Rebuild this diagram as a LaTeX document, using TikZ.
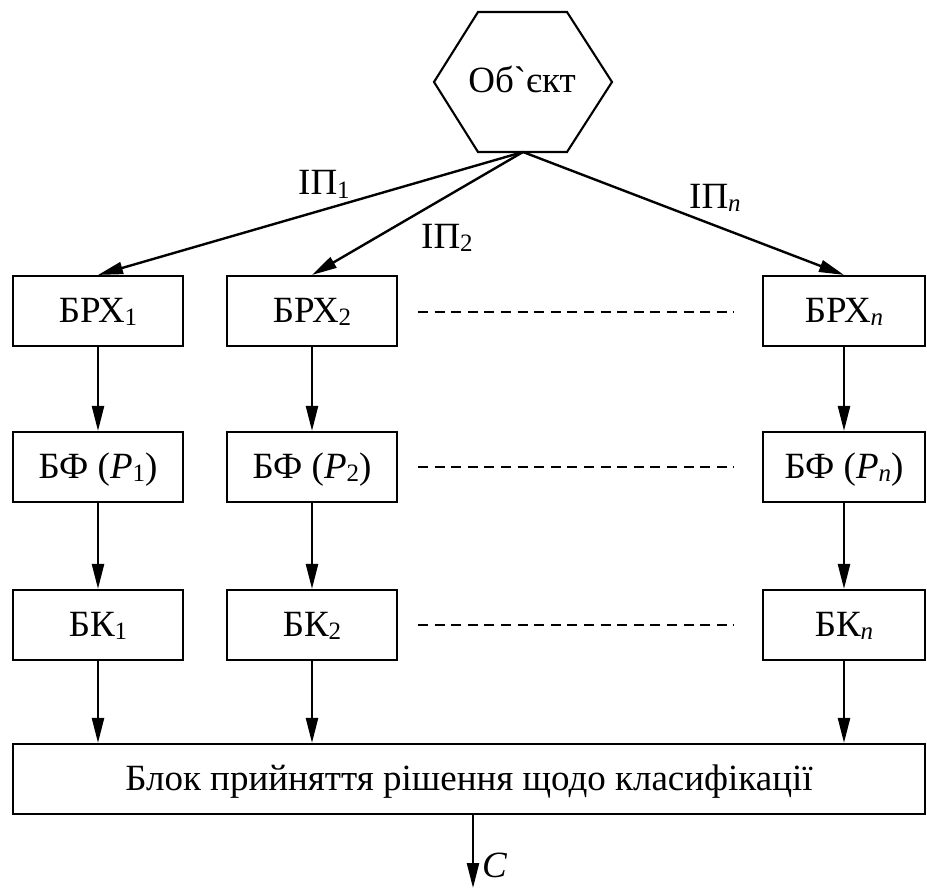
\documentclass[tikz,border=0pt]{standalone}
\usepackage{fontspec}
\setmainfont{Liberation Serif}
\newfontfamily\plainserif{Liberation Serif}
\usetikzlibrary{arrows.meta}
% small index set just below the baseline
\newcommand{\sbi}[1]{\raisebox{-3pt}{\fontsize{25}{25}\selectfont #1}}
\newcommand{\sbn}{\sbi{\itshape n}}
\begin{document}
\begin{tikzpicture}[x=1pt,y=-1pt,
  every node/.style={font=\fontsize{37}{44}\selectfont},
  blk/.style={draw,line width=2.1pt,minimum width=170pt,minimum height=70pt,inner sep=0pt,
    text height=28pt,text depth=6pt},
  flow/.style={line width=2.4pt,-{Triangle[length=25pt,width=12pt]}},
  gap/.style={line width=1.8pt,dash pattern=on 10pt off 6.6pt}]
\useasboundingbox (0,0) rectangle (927,888);

% object hexagon
\draw[line width=2.1pt] (478,12) -- (567,12) -- (612,82) -- (567,152) -- (478,152) -- (434,82) -- cycle;
\node[text height=28pt,text depth=6pt,inner sep=0pt] (obj) at (522,82) {Об{\plainserif\char"60}єкт};
\coordinate (objb) at (523,152);

% row 1
\node[blk] (r1) at (98,311) {БРХ\sbi{1}};
\node[blk] (r2) at (312,311) {БРХ\sbi{2}};
\node[blk,minimum width=162pt] (rn) at (844,311) {БРХ\sbn};
% row 2
\node[blk] (f1) at (98,467) {БФ (\textit{P}\sbi{1})};
\node[blk] (f2) at (312,467) {БФ (\textit{P}\sbi{2})};
\node[blk,minimum width=162pt] (fn) at (844,467) {БФ (\textit{P}\sbn)};
% row 3
\node[blk] (k1) at (98,625) {БК\sbi{1}};
\node[blk] (k2) at (312,625) {БК\sbi{2}};
\node[blk,minimum width=162pt] (kn) at (844,625) {БК\sbn};
% decision block
\node[blk,minimum width=912pt] (dec) at (469,779) {Блок прийняття рішення щодо класифікації};
\coordinate (out) at (473,888);

% channels from the object
\draw[flow] (objb) -- (r1.north);
\draw[flow] (objb) -- (r2.north);
\draw[flow] (objb) -- (rn.north);
\node[anchor=base west,inner sep=0pt] (ip1) at (298,195) {ІП\sbi{1}};
\node[anchor=base west,inner sep=0pt] (ip2) at (421,248) {ІП\sbi{2}};
\node[anchor=base west,inner sep=0pt] (ipn) at (689,208) {ІП\sbn};

% vertical chains
\foreach \a/\b in {r1/f1,f1/k1,r2/f2,f2/k2,rn/fn,fn/kn}
  \draw[flow] (\a.south) -- (\b.north);
\foreach \k in {k1,k2,kn}
  \draw[flow] (\k.south) -- (\k.south |- dec.north);

% omitted columns
\draw[gap] (418,312) -- (734,312);
\draw[gap] (418,467) -- (734,467);
\draw[gap] (418,625) -- (734,625);

% result
\draw[flow] (dec.south -| out) -- (out);
\node[anchor=base west,inner sep=0pt] (res) at (482,877) {\textit{C}};
\end{tikzpicture}
\end{document}
